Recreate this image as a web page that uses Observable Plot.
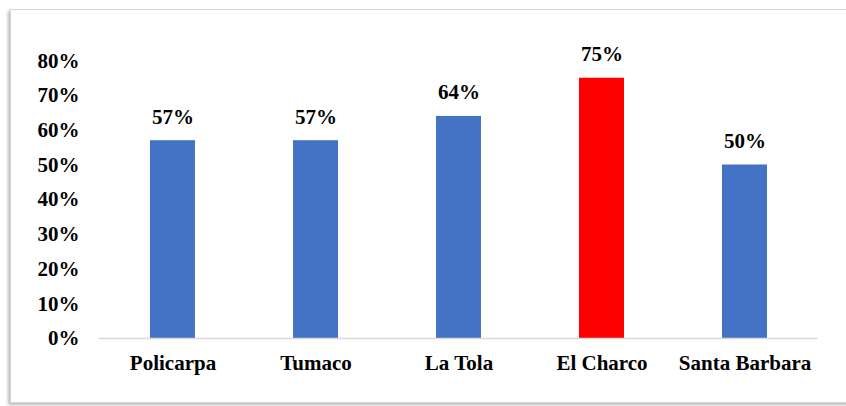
<!DOCTYPE html>
<html>
<head>
<meta charset="utf-8">
<script src="https://cdn.jsdelivr.net/npm/d3@7"></script>
<script src="https://cdn.jsdelivr.net/npm/@observablehq/plot@0.6"></script>
<style>
  html, body { margin: 0; padding: 0; background: #fff; }
  #wrap { position: relative; width: 846px; height: 406px; overflow: hidden; }
  #frame { position: absolute; left: 10px; top: 9px; width: 850px; height: 392px;
           border: 1px solid #d6d6d6; box-shadow: -2px 2px 3px rgba(0,0,0,0.28); background: #fff; }
  #chart { position: absolute; left: 0; top: 0; }
  #chart svg { font-family: "Liberation Serif", "Times New Roman", serif; font-weight: bold; }
</style>
</head>
<body>
<div id="wrap"><div id="frame"></div><div id="chart"></div></div>
<script>
const categories = ["Policarpa", "Tumaco", "La Tola", "El Charco", "Santa Barbara"];
const values = [0.57, 0.57, 0.64, 0.75, 0.50];
const barColors = ["#4472C4", "#4472C4", "#4472C4", "#FF0000", "#4472C4"];
const yTicks = [0, 0.1, 0.2, 0.3, 0.4, 0.5, 0.6, 0.7, 0.8];

const data = categories.map((c, i) => ({category: c, value: values[i], color: barColors[i]}));
const fmt = d3.format(".0%");

const chart = Plot.plot({
  width: 846,
  height: 406,
  marginLeft: 98.5,
  marginRight: 28.5,
  marginTop: 60.4,
  marginBottom: 68,
  style: {background: "transparent", fontSize: "21px", fontFamily: "'Liberation Serif', 'Times New Roman', serif", fontWeight: "bold", color: "#000"},
  x: {domain: categories, paddingInner: 0.687, paddingOuter: 0.3435, label: null},
  y: {domain: [0, 0.8], label: null},
  marks: [
    Plot.axisY({ticks: yTicks, tickFormat: fmt, tickSize: 0, tickPadding: 19.5, label: null, fontSize: 21, fontWeight: "bold"}),
    Plot.axisX({tickSize: 0, tickPadding: 17, label: null, fontSize: 21}),
    Plot.barY(data, {x: "category", y: "value", fill: "color"}),
    Plot.ruleY([0], {stroke: "#d9d9d9", strokeWidth: 1.5}),
    Plot.text(data, {x: "category", y: "value", text: d => fmt(d.value), dy: -17, lineAnchor: "bottom", fontSize: 21, fontWeight: "bold", fill: "#000"})
  ]
});
document.getElementById("chart").appendChild(chart);
</script>
</body>
</html>
